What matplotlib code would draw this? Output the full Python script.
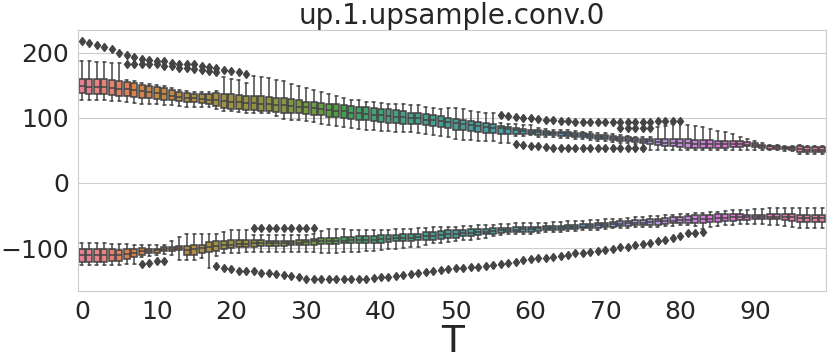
import numpy as np
import matplotlib.pyplot as plt
import seaborn as sns

nan = np.nan
T = np.arange(100)
xtick_labels = [str(t) for t in range(0, 100, 10)]

# upper cluster (per T): median, box edges, whisker ends, outliers
up_med = [149, 148, 148, 147, 146, 145, 144, 142, 141, 139,
          138, 136, 134, 132, 131, 130, 129, 128, 127, 126,
          125, 124, 123, 123, 122, 121, 120, 119, 118, 117,
          116, 115, 114, 112, 111, 110, 108, 107, 106, 105,
          104, 103, 102, 101, 100, 99, 97, 96, 95, 93,
          92, 90, 89, 87, 86, 85, 84, 83, 82, 80,
          79, 78, 77, 76, 76, 75, 74, 73, 72, 71,
          70, 69, 68, 67, 66, 65, 64, 63, 62, 62,
          61, 61, 60, 60, 60, 60, 60, 60, 60, 59,
          58, 57, 56, 55, 54, 53, 52, 51, 51, 51]
up_q3 = [160, 160, 159, 159, 158, 157, 155, 153, 151, 149,
         148, 146, 143, 140, 138, 137, 136, 137, 138, 137,
         136, 135, 134, 134, 133, 132, 131, 130, 129, 127,
         125, 124, 123, 122, 121, 120, 118, 117, 116, 115,
         114, 113, 112, 111, 108, 107, 106, 105, 103, 100,
         98, 97, 95, 93, 92, 90, 88, 86, 85, 83,
         82, 81, 80, 79, 79, 78, 77, 76, 75, 74,
         73, 72, 71, 70, 69, 68, 68, 67, 67, 67,
         67, 67, 66, 66, 66, 65, 65, 64, 64, 63,
         62, 59, 57, 56, 55, 55, 56, 55, 55, 55]
up_q1 = [138, 137, 137, 136, 135, 134, 133, 132, 131, 130,
         129, 128, 127, 126, 125, 124, 123, 121, 118, 115,
         113, 113, 112, 112, 111, 110, 109, 108, 107, 107,
         106, 105, 104, 102, 101, 100, 98, 97, 96, 95,
         93, 92, 92, 91, 91, 90, 89, 88, 86, 84,
         82, 81, 80, 78, 77, 76, 75, 75, 75, 75,
         75, 74, 73, 73, 72, 72, 71, 70, 69, 68,
         67, 66, 65, 64, 63, 61, 60, 58, 57, 56,
         55, 54, 54, 54, 54, 54, 54, 55, 55, 56,
         55, 53, 52, 52, 52, 51, 47, 47, 47, 47]
up_hi = [187, 187, 186, 186, 185, 184, 158, 156, 154, 152,
         151, 149, 146, 143, 141, 140, 139, 140, 141, 162,
         160, 158, 153, 165, 162, 161, 158, 156, 152, 149,
         146, 143, 139, 136, 133, 130, 128, 127, 125, 124,
         123, 122, 122, 121, 120, 119, 117, 115, 114, 115,
         115, 113, 111, 109, 108, 107, 92, 91, 90, 89,
         89, 84, 83, 82, 82, 81, 80, 79, 78, 77,
         76, 75, 73, 72, 71, 70, 70, 86, 88, 90,
         92, 89, 87, 86, 83, 80, 79, 75, 71, 67,
         65, 61, 59, 58, 57, 57, 58, 57, 57, 57]
up_lo = [127, 127, 127, 127, 126, 126, 124, 123, 122, 121,
         121, 120, 120, 118, 117, 117, 116, 116, 113, 111,
         110, 109, 108, 108, 107, 107, 103, 98, 97, 96,
         95, 93, 91, 89, 87, 86, 84, 83, 82, 81,
         80, 80, 79, 79, 79, 77, 75, 74, 72, 70,
         67, 66, 66, 65, 64, 64, 62, 62, 72, 72,
         73, 71, 70, 70, 69, 69, 68, 67, 66, 65,
         64, 63, 62, 61, 60, 51, 51, 51, 50, 50,
         50, 50, 50, 50, 50, 50, 50, 50, 50, 50,
         50, 50, 50, 50, 49, 49, 44, 44, 44, 44]
up_fly1 = [218, 215, 212, 209, 205, 200, 196, 193, 190, 189,
           188, 187, 185, 183, 182, 182, 180, 178, 177, 174,
           172, 170, 168] + [nan] * 33 + [
           105, 103, 101, 100, 99, 98, 97, 96, 95, 95,
           94, 94, 94, 94, 94, 94, 94, 94, 94, 94,
           94, 95, 95, 95, 95] + [nan] * 19
up_fly2 = [nan] * 6 + [183, 183, 183, 183, 182, 180, 179, 177, 176, 175,
                       174, 172, 170] + [nan] * 53 + [85, 85, 85, 85, 85] + [nan] * 23
up_fly3 = [nan] * 58 + [60, 58, 57, 56, 55, 54, 54, 53, 53, 53,
                        53, 53, 53, 53, 53, 53, 53, 53] + [nan] * 24

# lower cluster (per T)
lo_med = [-111, -111, -111, -111, -111, -111, -109, -107, -105, -104,
          -103, -102, -101, -100, -103, -102, -100, -98, -97, -96,
          -95, -94, -94, -93, -93, -93, -93, -93, -92, -92,
          -91, -90, -90, -89, -89, -89, -88, -88, -87, -87,
          -86, -86, -85, -85, -84, -83, -82, -81, -80, -79,
          -78, -77, -77, -76, -75, -74, -73, -73, -72, -71,
          -71, -70, -70, -69, -69, -68, -67, -67, -66, -65,
          -64, -63, -63, -62, -61, -61, -60, -59, -58, -58,
          -57, -57, -56, -56, -55, -54, -54, -53, -53, -53,
          -52, -52, -52, -52, -52, -53, -54, -54, -54, -54]
lo_q3 = [-102, -102, -102, -102, -102, -103, -102, -101, -100, -101,
         -101, -99, -99, -97, -97, -96, -95, -91, -90, -89,
         -88, -87, -87, -88, -88, -89, -89, -90, -89, -88,
         -87, -86, -85, -84, -84, -83, -83, -82, -82, -81,
         -80, -80, -80, -79, -79, -78, -76, -75, -74, -73,
         -72, -72, -71, -71, -71, -70, -70, -69, -68, -68,
         -67, -67, -66, -66, -66, -65, -64, -63, -63, -62,
         -61, -60, -59, -58, -57, -57, -56, -55, -54, -53,
         -52, -51, -50, -50, -49, -48, -48, -48, -48, -49,
         -49, -49, -48, -48, -48, -48, -49, -49, -49, -49]
lo_q1 = [-122, -122, -121, -121, -120, -120, -117, -114, -110, -108,
         -107, -105, -104, -103, -111, -110, -108, -106, -104, -102,
         -100, -99, -99, -98, -97, -97, -97, -97, -96, -96,
         -95, -95, -94, -94, -94, -93, -93, -93, -92, -92,
         -92, -91, -90, -90, -89, -88, -88, -87, -86, -85,
         -84, -82, -81, -80, -79, -78, -77, -76, -76, -75,
         -75, -74, -73, -73, -72, -71, -71, -70, -69, -69,
         -68, -67, -66, -66, -65, -65, -64, -64, -63, -62,
         -62, -62, -61, -61, -60, -60, -59, -58, -57, -57,
         -56, -56, -56, -56, -57, -58, -60, -60, -60, -60]
lo_hi = [-93, -93, -93, -93, -94, -94, -94, -95, -96, -96,
         -96, -95, -89, -83, -79, -79, -79, -79, -78, -76,
         -72, -72, -73, -80, -80, -80, -80, -80, -80, -80,
         -80, -79, -74, -71, -71, -71, -72, -72, -72, -72,
         -72, -72, -71, -71, -71, -70, -69, -68, -67, -67,
         -67, -66, -66, -65, -64, -64, -63, -63, -62, -62,
         -62, -61, -61, -60, -60, -59, -59, -58, -57, -57,
         -56, -56, -55, -54, -53, -52, -51, -51, -50, -49,
         -48, -47, -46, -46, -45, -44, -43, -42, -41, -41,
         -40, -40, -39, -39, -39, -39, -38, -38, -38, -38]
lo_lo = [-126, -126, -126, -126, -126, -126, -125, -124, -114, -112,
         -110, -109, -111, -118, -118, -118, -116, -130, -112, -108,
         -107, -107, -106, -106, -106, -106, -106, -106, -106, -106,
         -106, -106, -107, -107, -107, -106, -106, -106, -105, -104,
         -103, -102, -101, -100, -99, -98, -96, -93, -92, -91,
         -90, -88, -87, -86, -84, -82, -80, -79, -79, -78,
         -78, -77, -76, -76, -75, -74, -74, -73, -72, -72,
         -71, -70, -69, -69, -68, -68, -67, -67, -66, -66,
         -65, -65, -66, -71, -67, -66, -65, -64, -63, -63,
         -63, -63, -64, -65, -66, -67, -69, -69, -69, -69]
lo_fly1 = [nan] * 8 + [-124, -123, -120, -120] + [nan] * 6 + [
    -128, -130, -133, -135, -135, -136, -138, -139, -140, -141,
    -143, -145, -147, -147, -148, -148, -148, -148, -148, -148,
    -147, -146, -145, -144, -143, -142, -140, -139, -137, -136,
    -134, -132, -131, -130, -129, -129, -128, -126, -125, -123,
    -121, -119, -117, -116, -115, -114, -112, -110, -108, -107,
    -106, -104, -103, -101, -99, -98, -96, -94, -92, -90,
    -88, -85, -81, -77, -77, -75] + [nan] * 16
lo_fly2 = [nan] * 23 + [-70] * 9 + [nan] * 68


def box_stats(med, q1, q3, lo, hi, *flys):
    stats = []
    for i in range(len(med)):
        fl = [f[i] for f in flys if not np.isnan(f[i])]
        stats.append(dict(med=med[i], q1=q1[i], q3=q3[i],
                          whislo=lo[i], whishi=hi[i], fliers=fl))
    return stats


sns.set_style("whitegrid")
plt.rcParams['font.family'] = ['DejaVu Sans']

fig, ax = plt.subplots(figsize=(8.31, 3.61), dpi=100)
fig.subplots_adjust(left=0.094, right=0.994, bottom=0.194, top=0.917)

colors = [sns.desaturate(c, 0.75) for c in sns.color_palette("husl", len(T))]
gray = "#444444"

groups = [box_stats(up_med, up_q1, up_q3, up_lo, up_hi, up_fly1, up_fly2, up_fly3),
          box_stats(lo_med, lo_q1, lo_q3, lo_lo, lo_hi, lo_fly1, lo_fly2)]
for stats in groups:
    bp = ax.bxp(stats, positions=T, widths=0.8, patch_artist=True, manage_ticks=False,
                boxprops=dict(edgecolor=gray, linewidth=1.1),
                medianprops=dict(color=gray, linewidth=1.1),
                whiskerprops=dict(color=gray, linewidth=1.1),
                capprops=dict(color=gray, linewidth=1.1),
                flierprops=dict(marker='d', markersize=4.5, markerfacecolor=gray,
                                markeredgecolor=gray, linestyle='none'))
    for patch, c in zip(bp['boxes'], colors):
        patch.set_facecolor(c)

ax.set_xlim(-0.5, 99.5)
ax.set_ylim(-166, 235)
ax.set_xticks(range(0, 100, 10))
ax.set_xticklabels(xtick_labels)
ax.set_yticks([-100, 0, 100, 200])
ax.xaxis.grid(False)
ax.tick_params(labelsize=18, colors='.15', pad=3)
ax.set_xlabel("T", fontsize=27, labelpad=0, color='.15')
ax.set_title("up.1.upsample.conv.0", fontsize=20, pad=4, color='.15')

fig.savefig("out.png", dpi=100)
